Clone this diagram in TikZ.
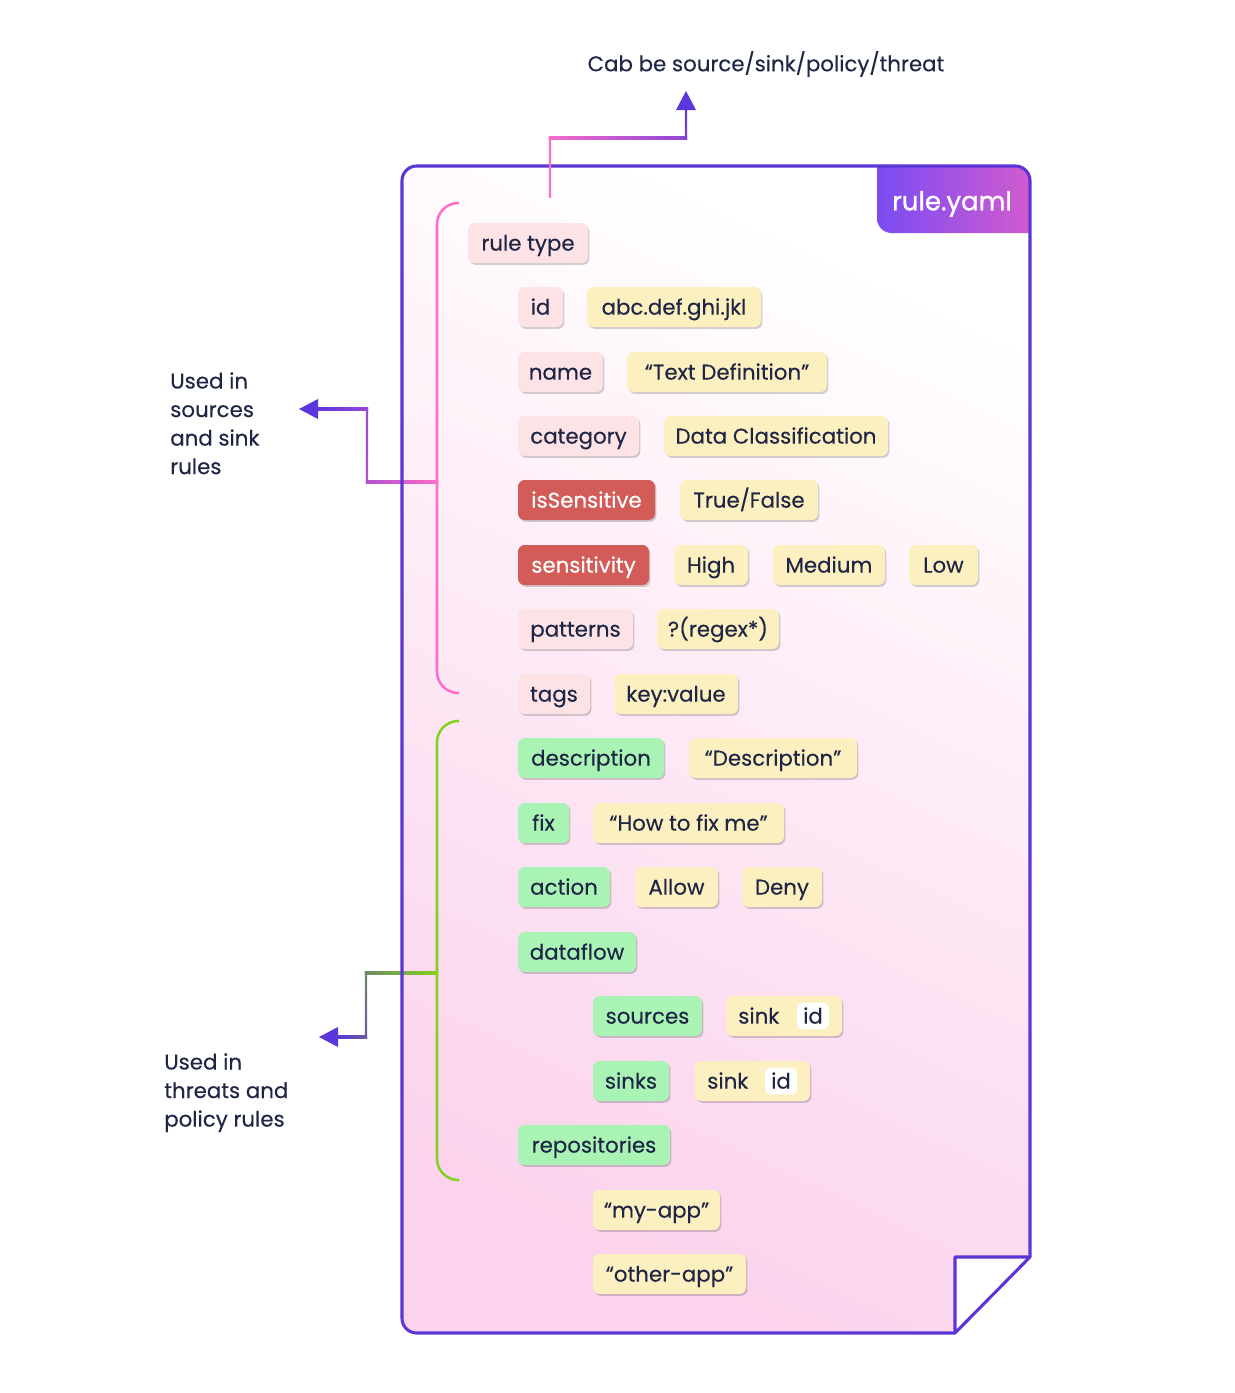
\documentclass[tikz,border=0pt]{standalone}
\usepackage{fontspec}
\setmainfont{Poppins}[FakeBold=0.25]
\newfontfamily\tabfont{Poppins}[FakeBold=1.2]
\usetikzlibrary{shadows,calc}
\definecolor{ink}{HTML}{1F2544}
\definecolor{docline}{HTML}{5C35D6}
\definecolor{docpink}{HTML}{FBD3EC}
\definecolor{tabL}{HTML}{7A4CF2}
\definecolor{tabR}{HTML}{E25EC8}
\definecolor{keypink}{HTML}{FDE2E6}
\definecolor{keyyel}{HTML}{FDF0C0}
\definecolor{keygreen}{HTML}{A9F4B5}
\definecolor{keyred}{HTML}{D35B58}
\definecolor{brpink}{HTML}{FF6EC7}
\definecolor{brgreen}{HTML}{84D21F}
\definecolor{arrowc}{HTML}{5A36DC}
\definecolor{midmag}{HTML}{B050D0}
\definecolor{midvio}{HTML}{9848D8}
\definecolor{midgray}{HTML}{6E8A66}
\definecolor{midslate}{HTML}{6A5A9E}
% one key or value chip: style, name, left, right, y, text
\newcommand\kb[6]{\node[#1, anchor=west, minimum width={(#4-#3)*0.75pt}] (#2) at (#3,#5) {#6};}
% gradient line pieces (horizontal / vertical)
\newcommand\hseg[4]{\shade[left color=#3, right color=#4] ($(#1)+(-1.2,-1.1)$) rectangle ($(#2)+(1.2,1.1)$);}
\newcommand\vseg[4]{\shade[top color=#3, bottom color=#4] ($(#1)+(-1.1,-1.2)$) rectangle ($(#2)+(1.1,1.2)$);}
\begin{document}
\begin{tikzpicture}[x=0.75pt,y=-0.75pt,
  font=\fontsize{16pt}{20pt}\selectfont,
  chip/.style={rounded corners=5pt, minimum height=30pt, inner xsep=0pt, inner ysep=0pt,
    outer sep=0pt, text=ink, text height=11.4pt, text depth=0pt,
    drop shadow={shadow xshift=1.1pt, shadow yshift=-1.4pt, opacity=0.18, fill=black}},
  pk/.style={chip, fill=keypink},
  yk/.style={chip, fill=keyyel},
  gk/.style={chip, fill=keygreen},
  rk/.style={chip, fill=keyred, text=white},
  idchip/.style={fill=white, rounded corners=4pt, minimum width=24pt, minimum height=20pt,
    inner sep=0pt, text=ink, text height=11.4pt, text depth=0pt},
  plain/.style={text=ink, anchor=west, inner sep=0pt, text height=11.4pt, text depth=0pt},
  bracket/.style={line width=1.9pt, rounded corners=16pt},
  label/.style={text=ink, align=left, inner sep=0pt, anchor=north west,
    font=\fontsize{16pt}{21.4pt}\selectfont}]
\useasboundingbox (0,0) rectangle (1235,1393);

% ---- document body
\shade[top color=white, bottom color=docpink, shading angle=-25, rounded corners=11pt]
  (955,1333) -- (402,1333) -- (402,166) -- (1030,166) -- (1030,1257) -- cycle;
\begin{scope}
  \clip[rounded corners=11pt] (1030,1257) -- (1030,166) -- (402,166) -- (402,1333) -- (955,1333) -- cycle;
  \shade[left color=tabL, right color=tabR, rounded corners=11pt]
    (877,130) -- (1060,130) -- (1060,233) -- (877,233) -- cycle;
\end{scope}
\node[text=white, font=\fontsize{19.5pt}{24pt}\tabfont] (tab) at (952,204) {rule.yaml};

% folded corner
\fill[white] (955,1257) -- (1030,1257) -- (955,1333) -- cycle;

% ---- side connectors (behind the outline)
\coordinate (pA) at (437,482);
\coordinate (pB) at (367,482);
\coordinate (pC) at (367,409);
\coordinate (pD) at (316,409);
\coordinate (pTip) at (299,409);
\hseg{pB}{pA}{midmag}{brpink}
\vseg{pC}{pB}{midvio}{midmag}
\hseg{pD}{pC}{arrowc}{midvio}
\fill[arrowc] (pTip) -- ($(pTip)+(19,-10)$) -- ($(pTip)+(19,10)$) -- cycle;

\coordinate (gA) at (437,973);
\coordinate (gB) at (366,973);
\coordinate (gC) at (366,1037);
\coordinate (gD) at (336,1037);
\coordinate (gTip) at (319,1037);
\hseg{gB}{gA}{midgray}{brgreen}
\vseg{gB}{gC}{midgray}{midslate}
\hseg{gD}{gC}{arrowc}{midslate}
\fill[arrowc] (gTip) -- ($(gTip)+(19,-10)$) -- ($(gTip)+(19,10)$) -- cycle;

% ---- outline
\draw[docline, line width=2.3pt, rounded corners=11pt]
  (1030,1257) -- (1030,166) -- (402,166) -- (402,1333) -- (955,1333);
\draw[docline, line width=2.3pt, line join=round]
  (955,1333) -- (955,1257) -- (1030,1257) -- (955,1333) -- cycle;

% ---- top connector
\coordinate (tA) at (550,196);
\coordinate (tB) at (550,138);
\coordinate (tC) at (686,138);
\coordinate (tD) at (686,109);
\coordinate (tTip) at (686,91);
\vseg{tB}{tA}{brpink}{brpink}
\hseg{tB}{tC}{brpink!90!midmag}{midvio!80!arrowc}
\vseg{tD}{tC}{arrowc}{midvio!60!arrowc}
\fill[arrowc] (tTip) -- ($(tTip)+(-10,19)$) -- ($(tTip)+(10,19)$) -- cycle;
\node[text=ink] (title) at (766,64) {Cab be source/sink/policy/threat};

% ---- brackets
\draw[bracket, brpink] (459,203) -- (437,203) -- (437,693) -- (459,693);
\draw[bracket, brgreen] (459,721) -- (437,721) -- (437,1180) -- (459,1180);

% ---- side labels
\node[label] (lblA) at (170,372) {Used in\\sources\\and sink\\rules};
\node[label] (lblB) at (164,1053) {Used in\\threats and\\policy rules};

% ---- chips
\kb{pk}{rt}{468}{588}{243}{rule type}
\kb{pk}{id}{518}{563}{307}{id}
\kb{yk}{idv}{587}{761}{307}{abc.def.ghi.jkl}
\kb{pk}{nm}{518}{603}{372}{name}
\kb{yk}{nmv}{627}{827}{372}{“Text Definition”}
\kb{pk}{cat}{518}{639}{436}{category}
\kb{yk}{catv}{664}{888}{436}{Data Classification}
\kb{rk}{sen}{518}{655}{500}{isSensitive}
\kb{yk}{senv}{680}{818}{500}{True/False}
\kb{rk}{sty}{518}{649}{565}{sensitivity}
\kb{yk}{hi}{674}{748}{565}{High}
\kb{yk}{med}{773}{885}{565}{Medium}
\kb{yk}{lo}{909}{978}{565}{Low}
\kb{pk}{pat}{518}{633}{629}{patterns}
\kb{yk}{patv}{657}{779}{629}{?(regex*)}
\kb{pk}{tag}{518}{590}{694}{tags}
\kb{yk}{tagv}{614}{738}{694}{key:value}
\kb{gk}{desc}{518}{664}{758}{description}
\kb{yk}{descv}{689}{857}{758}{“Description”}
\kb{gk}{fix}{518}{569}{823}{fix}
\kb{yk}{fixv}{593}{784}{823}{“How to fix me”}
\kb{gk}{act}{518}{610}{887}{action}
\kb{yk}{allow}{635}{718}{887}{Allow}
\kb{yk}{deny}{742}{822}{887}{Deny}
\kb{gk}{df}{518}{636}{952}{dataflow}
\kb{gk}{src}{593}{702}{1016}{sources}
\kb{yk}{srcv}{726}{842}{1016}{}
\node[plain] (srcsink) at (738,1016) {sink};
\node[idchip] (srcid) at (813,1016) {id};
\kb{gk}{snk}{593}{669}{1081}{sinks}
\kb{yk}{snkv}{695}{810}{1081}{}
\node[plain] (snksink) at (707,1081) {sink};
\node[idchip] (snkid) at (781,1081) {id};
\kb{gk}{repo}{518}{670}{1145}{repositories}
\kb{yk}{app1}{593}{720}{1210}{“my-app”}
\kb{yk}{app2}{593}{746}{1274}{“other-app”}
\end{tikzpicture}
\end{document}
